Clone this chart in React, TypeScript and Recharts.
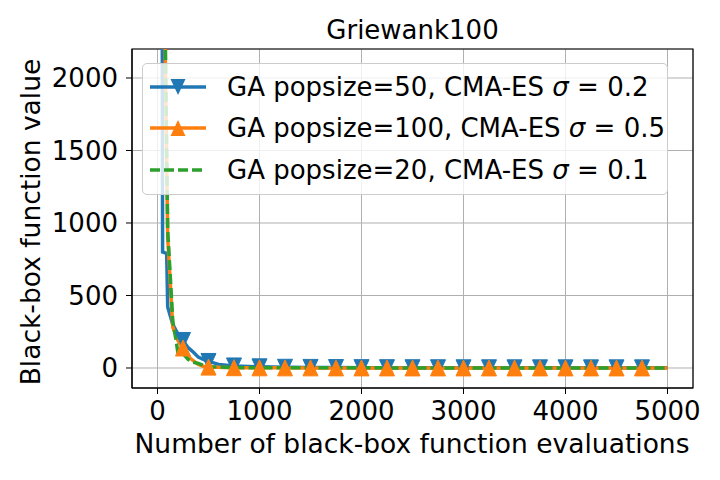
import React from "react";
import {
  CartesianGrid,
  Line,
  LineChart,
  ReferenceArea,
  XAxis,
  YAxis,
} from "recharts";

// evaluations where each series was sampled
const evalsBlue = [0, 50, 90, 100, 150, 200, 250, 300, 350, 400, 450, 500, 600, 750, 1000, 1250, 1500, 1750, 2000, 2250, 2500, 2750, 3000, 3250, 3500, 3750, 4000, 4250, 4500, 4750, 5000];
const valuesBlue = [25000, 800, 790, 420, 300, 235, 190, 140, 110, 75, 60, 45, 25, 14, 8, 5, 4, 3, 2.5, 2, 1.8, 1.6, 1.4, 1.3, 1.2, 1.1, 1.05, 1.0, 0.98, 0.96, 0.95];

const evalsOrange = [0, 50, 100, 150, 200, 250, 300, 350, 400, 450, 500, 750, 1000, 1250, 1500, 1750, 2000, 2250, 2500, 2750, 3000, 3250, 3500, 3750, 4000, 4250, 4500, 4750, 5000];
const valuesOrange = [25000, 3500, 900, 280, 190, 138, 80, 50, 25, 12, 6, 2, 1.2, 0.9, 0.8, 0.7, 0.65, 0.6, 0.58, 0.55, 0.53, 0.52, 0.5, 0.5, 0.49, 0.48, 0.48, 0.47, 0.47];

const evalsGreen = [0, 50, 100, 150, 180, 200, 250, 300, 350, 400, 450, 500, 750, 1000, 1250, 1500, 1750, 2000, 2250, 2500, 2750, 3000, 3250, 3500, 3750, 4000, 4250, 4500, 4750, 5000];
const valuesGreen = [30000, 3800, 950, 320, 200, 105, 100, 60, 40, 32, 18, 9, 3, 1.5, 1.2, 1.0, 0.9, 0.85, 0.8, 0.78, 0.75, 0.72, 0.7, 0.7, 0.68, 0.67, 0.66, 0.65, 0.65, 0.65];

const xTicks = [0, 1000, 2000, 3000, 4000, 5000];
const yTicks = [0, 500, 1000, 1500, 2000];

const seriesNames = ["GA popsize=50, CMA-ES ", "GA popsize=100, CMA-ES ", "GA popsize=20, CMA-ES "];
const sigmas = ["0.2", "0.5", "0.1"];

const BLUE = "#1f77b4";
const ORANGE = "#ff7f0e";
const GREEN = "#2ca02c";
const FONT = "'DejaVu Sans', sans-serif";

const zip = (xs: number[], ys: number[]) => xs.map((x, i) => ({ x, y: ys[i] }));
const blueData = zip(evalsBlue, valuesBlue);
const orangeData = zip(evalsOrange, valuesOrange);
const greenData = zip(evalsGreen, valuesGreen);

function tri(cx: number, cy: number, up: boolean) {
  const w = 7.5;
  const h = 8;
  return up
    ? `M${cx},${cy - h} L${cx - w},${cy + h} L${cx + w},${cy + h} Z`
    : `M${cx},${cy + h} L${cx - w},${cy - h} L${cx + w},${cy - h} Z`;
}

function makeDot(color: string, up: boolean) {
  return (props: any) => {
    const { cx, cy, payload, index } = props;
    const x = payload?.x;
    if (cx == null || cy == null || x == null || x <= 0 || x >= 5000 || x % 250 !== 0) {
      return <g key={`d${index}`} />;
    }
    return <path key={`d${index}`} d={tri(cx, cy, up)} fill={color} stroke={color} />;
  };
}

function Swatch({ color, marker, dashed }: { color: string; marker?: "up" | "down"; dashed?: boolean }) {
  return (
    <svg width={58} height={24} style={{ position: "absolute", left: 6, top: -12 }}>
      <line x1={1} y1={12} x2={57} y2={12} stroke={color} strokeWidth={3.5} strokeDasharray={dashed ? "10 4" : undefined} />
      {marker && <path d={tri(29, 12, marker === "up")} fill={color} />}
    </svg>
  );
}

export default function App() {
  const rows = [
    { color: BLUE, marker: "down" as const, top: 23 },
    { color: ORANGE, marker: "up" as const, top: 64 },
    { color: GREEN, dashed: true, top: 106 },
  ];
  return (
    <div style={{ position: "absolute", left: 0, top: 0, width: 720, height: 480, background: "#fff", fontFamily: FONT }}>
      <LineChart width={720} height={480} margin={{ top: 49, right: 27, bottom: 52, left: 0 }}>
        <CartesianGrid stroke="#b0b0b0" strokeWidth={1} />
        <XAxis
          type="number"
          dataKey="x"
          domain={[-250, 5250]}
          ticks={xTicks}
          allowDataOverflow
          height={40}
          tickSize={6}
          tickMargin={8}
          stroke="#000"
          tick={{ fontSize: 26, fill: "#000", fontFamily: FONT }}
        />
        <YAxis
          type="number"
          domain={[-138, 2200]}
          ticks={yTicks}
          allowDataOverflow
          width={132}
          tickSize={6}
          tickMargin={8}
          stroke="#000"
          tick={{ fontSize: 26, fill: "#000", fontFamily: FONT }}
        />
        <ReferenceArea x1={-250} x2={5250} y1={-138} y2={2200} fill="none" stroke="#000" strokeWidth={1.2} />
        <Line data={blueData} dataKey="y" stroke={BLUE} strokeWidth={3.5} dot={makeDot(BLUE, false)} activeDot={false} isAnimationActive={false} />
        <Line data={orangeData} dataKey="y" stroke={ORANGE} strokeWidth={3.5} dot={makeDot(ORANGE, true)} activeDot={false} isAnimationActive={false} />
        <Line data={greenData} dataKey="y" stroke={GREEN} strokeWidth={3.5} strokeDasharray="10 4" dot={false} activeDot={false} isAnimationActive={false} />
      </LineChart>

      <div style={{ position: "absolute", left: 412.5, top: 29.5, transform: "translate(-50%,-50%)", fontSize: 26, lineHeight: 1, whiteSpace: "nowrap" }}>
        Griewank100
      </div>
      <div style={{ position: "absolute", left: 412, top: 444, transform: "translate(-50%,-50%)", fontSize: 26.5, lineHeight: 1, whiteSpace: "nowrap" }}>
        Number of black-box function evaluations
      </div>
      <div style={{ position: "absolute", left: 30.5, top: 222, transform: "translate(-50%,-50%) rotate(-90deg)", fontSize: 26.5, lineHeight: 1, whiteSpace: "nowrap" }}>
        Black-box function value
      </div>

      <div
        style={{
          position: "absolute",
          left: 142,
          top: 63,
          width: 526,
          height: 132,
          boxSizing: "border-box",
          background: "rgba(255,255,255,0.8)",
          border: "1px solid #cccccc",
          borderRadius: 5,
        }}
      >
        {rows.map((r, i) => (
          <div key={i} style={{ position: "absolute", left: 0, top: r.top, width: "100%" }}>
            <Swatch color={r.color} marker={(r as any).marker} dashed={(r as any).dashed} />
            <div style={{ position: "absolute", left: 84, top: 0, transform: "translateY(-50%)", fontSize: 26, lineHeight: 1, whiteSpace: "nowrap" }}>
              {seriesNames[i]}
              <i>σ</i>
              {" = "}
              {sigmas[i]}
            </div>
          </div>
        ))}
      </div>
    </div>
  );
}
